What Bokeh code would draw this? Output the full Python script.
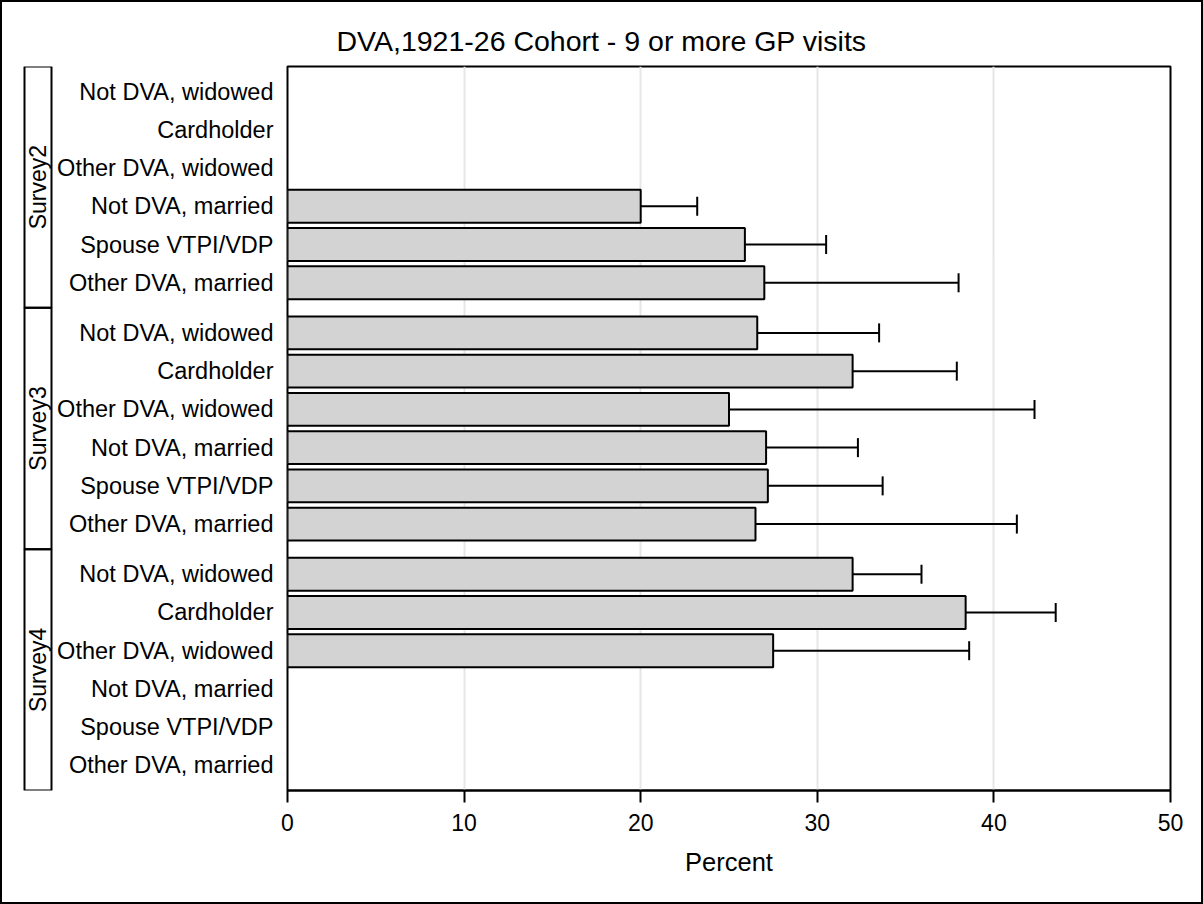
import math
from bokeh.plotting import figure
from bokeh.layouts import row
from bokeh.models import Range1d, FixedTicker, Whisker, TeeHead, ColumnDataSource
from bokeh.core.properties import value
from bokeh.embed import file_html
from bokeh.resources import INLINE

# ---------------- data ----------------
title_text = "DVA,1921-26 Cohort - 9 or more GP visits"
x_label = "Percent"
surveys = ["Survey2", "Survey3", "Survey4"]
categories = ["Not DVA, widowed", "Cardholder", "Other DVA, widowed",
              "Not DVA, married", "Spouse VTPI/VDP", "Other DVA, married"]
survey2_pct = [None, None, None, 20.0, 25.9, 27.0]
survey2_upper = [None, None, None, 23.2, 30.5, 38.0]
survey3_pct = [26.6, 32.0, 25.0, 27.1, 27.2, 26.5]
survey3_upper = [33.5, 37.9, 42.3, 32.3, 33.7, 41.3]
survey4_pct = [32.0, 38.4, 27.5, None, None, None]
survey4_upper = [35.9, 43.5, 38.6, None, None, None]
x_ticks = [0, 10, 20, 30, 40, 50]

pct = [survey2_pct, survey3_pct, survey4_pct]
upper = [survey2_upper, survey3_upper, survey4_upper]

# ---------------- layout helpers ----------------
FONT = "Liberation Sans"
PANEL = 6.31                      # panel height in row units
PAD = (PANEL - len(categories)) / 2.0

def ycenter(p, r):
    return p * PANEL + PAD + r + 0.5

ys, rights, ups = [], [], []
tick_pos, tick_lab = [], []
for p in range(len(surveys)):
    for r, c in enumerate(categories):
        y = ycenter(p, r)
        tick_pos.append(y)
        tick_lab.append(c)
        if pct[p][r] is not None:
            ys.append(y)
            rights.append(pct[p][r])
            ups.append(upper[p][r])

src = ColumnDataSource(dict(y=ys, right=rights, upper=ups))

y_range = Range1d(PANEL * len(surveys), 0)

# ---------------- main figure ----------------
TOTAL_W, TOTAL_H = 1199, 900
LEFT_W = 52
TOP, BOTTOM = 64, 112

p = figure(width=TOTAL_W - LEFT_W, height=TOTAL_H, x_range=Range1d(0, 50),
           y_range=y_range, output_backend="svg", toolbar_location=None,
           min_border_left=285 - LEFT_W, min_border_right=31,
           min_border_top=TOP, min_border_bottom=BOTTOM,
           title=title_text)
p.title.text_font = FONT
p.title.text_font_size = "28.5px"
p.title.text_font_style = "normal"
p.title.text_color = "black"
p.title.align = "left"
p.title.offset = 49
p.title.standoff = 20

p.outline_line_color = "black"
p.outline_line_width = 2
p.background_fill_color = "white"
p.border_fill_color = "white"

p.ygrid.visible = False
p.xgrid.ticker = FixedTicker(ticks=x_ticks)
p.xgrid.grid_line_color = "#e6e6e6"
p.xgrid.grid_line_width = 2

p.hbar(y="y", right="right", left=0, height=0.86, source=src,
       fill_color="#d3d3d3", line_color="black", line_width=2)

wh = Whisker(base="y", lower="right", upper="upper", dimension="width",
             source=src, line_color="black", line_width=2,
             lower_head=None,
             upper_head=TeeHead(size=19, line_color="black", line_width=2))
p.add_layout(wh)

xa = p.xaxis[0]
xa.ticker = FixedTicker(ticks=x_ticks)
xa.axis_line_color = "black"
xa.axis_line_width = 2
xa.major_tick_line_color = "black"
xa.major_tick_line_width = 2
xa.major_tick_out = 12
xa.major_tick_in = 0
xa.minor_tick_line_color = None
xa.major_label_text_font = FONT
xa.major_label_text_font_size = "23px"
xa.major_label_text_color = "black"
xa.major_label_standoff = 11
xa.axis_label = x_label
xa.axis_label_text_font = FONT
xa.axis_label_text_font_size = "25.5px"
xa.axis_label_text_font_style = "normal"
xa.axis_label_text_color = "black"
xa.axis_label_standoff = 14

ya = p.yaxis[0]
ya.ticker = FixedTicker(ticks=tick_pos)
ya.major_label_overrides = {t: l for t, l in zip(tick_pos, tick_lab)}
ya.axis_line_color = None
ya.major_tick_line_color = None
ya.minor_tick_line_color = None
ya.major_tick_out = 0
ya.major_tick_in = 0
ya.major_label_standoff = 14
ya.major_label_text_font = FONT
ya.major_label_text_font_size = "23.5px"
ya.major_label_text_color = "black"

# ---------------- survey label column ----------------
A = (33 / 27 - 1) / 2
left = figure(width=LEFT_W, height=TOTAL_H, x_range=Range1d(-A, 1 + A),
              y_range=y_range, output_backend="svg", toolbar_location=None,
              x_axis_location=None, y_axis_location=None,
              min_border_left=19, min_border_right=0,
              min_border_top=TOP, min_border_bottom=BOTTOM)
left.outline_line_color = None
left.xgrid.visible = False
left.ygrid.visible = False
left.border_fill_color = "white"

tops = [i * PANEL for i in range(len(surveys))]
bots = [(i + 1) * PANEL for i in range(len(surveys))]
mids = [(i + 0.5) * PANEL for i in range(len(surveys))]
left.quad(left=0, right=1, top=tops, bottom=bots, fill_color=None,
          line_color="black", line_width=2)
left.text(x=[0.5] * len(surveys), y=mids, text=surveys, angle=math.pi / 2,
          text_align="center", text_baseline="middle",
          text_font=value(FONT), text_font_size="23px", text_color="black")

layout = row(left, p, styles={"border": "2px solid black"})

open("out.html", "w").write(file_html(layout, INLINE))
